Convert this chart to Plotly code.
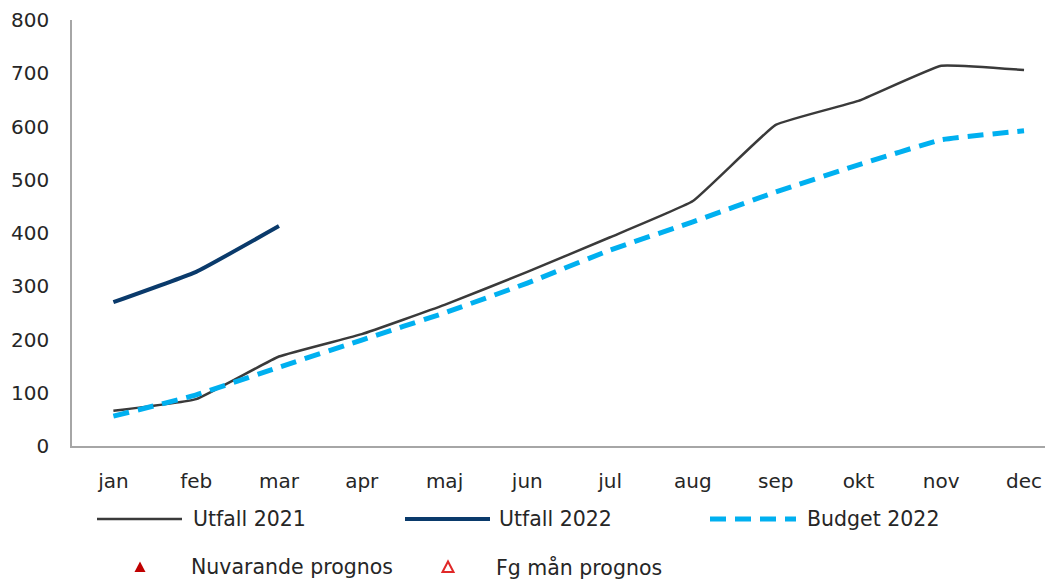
import plotly.graph_objects as go

months = ["jan", "feb", "mar", "apr", "maj", "jun", "jul", "aug", "sep", "okt", "nov", "dec"]
utfall_2021 = [66, 88, 168, 210, 265, 327, 392, 460, 603, 648, 714, 706]
utfall_2022 = [270, 327, 413]
budget_2022 = [56, 96, 148, 199, 250, 306, 368, 421, 477, 528, 575, 592]
nuvarande_prognos = []
fg_man_prognos = []

FONT = "DejaVu Sans"
FS = 20
LFS = 20.5
TXT = "#262626"

fig = go.Figure()
fig.add_trace(go.Scatter(x=months, y=utfall_2021, mode="lines", name="Utfall 2021",
                         line=dict(color="#3a3a3a", width=2.5, shape="spline", smoothing=0.3)))
fig.add_trace(go.Scatter(x=months[:len(utfall_2022)], y=utfall_2022, mode="lines", name="Utfall 2022",
                         line=dict(color="#0a3a6b", width=4, shape="spline", smoothing=0.3)))
fig.add_trace(go.Scatter(x=months, y=budget_2022, mode="lines", name="Budget 2022",
                         line=dict(color="#00b0f0", width=5, dash="16px,9px", shape="spline", smoothing=0.3)))
fig.add_trace(go.Scatter(x=months[:len(nuvarande_prognos)], y=nuvarande_prognos, mode="markers",
                         name="Nuvarande prognos", marker=dict(symbol="triangle-up", color="#c00000")))
fig.add_trace(go.Scatter(x=months[:len(fg_man_prognos)], y=fg_man_prognos, mode="markers",
                         name="Fg mån prognos", marker=dict(symbol="triangle-up-open", color="#e03030")))

OFF = 8  # page body margin
W, H = 1053 - OFF, 581 - OFF
L, T, B = 72 - OFF, 20 - OFF, 446 - OFF
PW = W - L
PH = B - T


def px(x):
    return (x - OFF - L) / PW


def py(y):
    return (B - (y - OFF)) / PH


shapes = []
annotations = []
row1 = 519
row2 = 567
legend_lines = [
    (97, 182, "#3a3a3a", 2.5, "solid", 191, "Utfall 2021"),
    (405, 490, "#0a3a6b", 4, "solid", 497, "Utfall 2022"),
    (710, 796, "#00b0f0", 5, "dash", 805, "Budget 2022"),
]
for x0, x1, col, w, dash, tx, label in legend_lines:
    shapes.append(dict(type="line", xref="paper", yref="paper", x0=px(x0), x1=px(x1),
                       y0=py(row1), y1=py(row1), line=dict(color=col, width=w,
                       dash="16px,9px" if dash == "dash" else "solid")))
    annotations.append(dict(xref="paper", yref="paper", x=px(tx), y=py(row1), text=label,
                            showarrow=False, xanchor="left", yanchor="middle",
                            font=dict(family=FONT, size=LFS, color=TXT)))

tri = "M -5.5,-5 L 5.5,-5 L 0,5.5 Z"
for sx, filled, col, tx, label in [(140, True, "#c00000", 189, "Nuvarande prognos"),
                                   (448, False, "#e02828", 494, "Fg mån prognos")]:
    shapes.append(dict(type="path", xref="paper", yref="paper", xsizemode="pixel",
                       ysizemode="pixel", xanchor=px(sx), yanchor=py(row2), path=tri,
                       fillcolor=col if filled else "rgba(0,0,0,0)",
                       line=dict(color=col, width=0 if filled else 2)))
    annotations.append(dict(xref="paper", yref="paper", x=px(tx), y=py(row2), text=label,
                            showarrow=False, xanchor="left", yanchor="middle",
                            font=dict(family=FONT, size=LFS, color=TXT)))

fig.update_layout(
    width=W, height=H,
    margin=dict(l=L, r=0, t=T, b=H - B, pad=0, autoexpand=False),
    paper_bgcolor="white", plot_bgcolor="white",
    showlegend=False,
    font=dict(family=FONT, size=FS, color=TXT),
    shapes=shapes, annotations=annotations,
    xaxis=dict(type="category", range=[-0.5, 11.35], showgrid=False, zeroline=False,
               automargin=False,
               showline=True, linecolor="#a6a6a6", linewidth=1.5,
               ticks="outside", ticklen=16, tickcolor="rgba(0,0,0,0)",
               tickfont=dict(family=FONT, size=FS, color=TXT)),
    yaxis=dict(range=[0, 800], dtick=100, showgrid=False, zeroline=False,
               automargin=False,
               showline=True, linecolor="#a6a6a6", linewidth=1.5,
               ticks="outside", ticklen=17, tickcolor="rgba(0,0,0,0)",
               tickfont=dict(family=FONT, size=FS, color=TXT)),
)

fig.write_html("out.html")
